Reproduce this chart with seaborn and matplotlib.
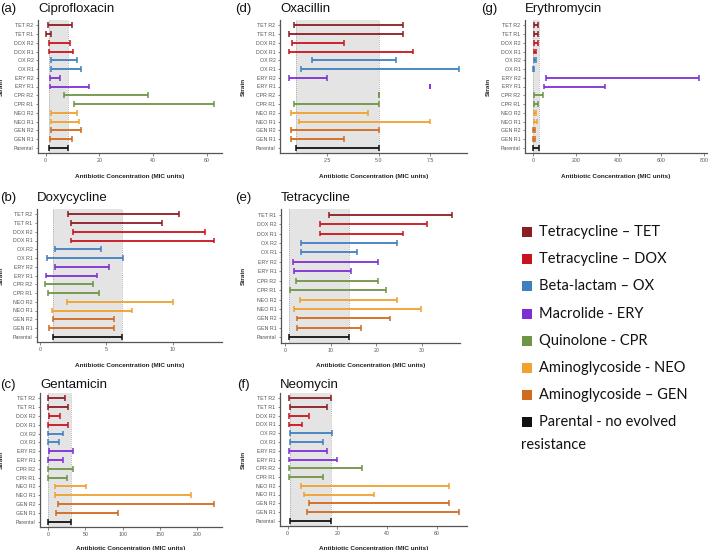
import numpy as np
import pandas as pd
import matplotlib
matplotlib.use("Agg")
import matplotlib.pyplot as plt
from matplotlib.patches import Rectangle
import seaborn as sns

# ---------------- data ----------------
strains = ["TET R2", "TET R1", "DOX R2", "DOX R1", "OX R2", "OX R1", "ERY R2", "ERY R1",
           "CPR R2", "CPR R1", "NEO R2", "NEO R1", "GEN R2", "GEN R1", "Parental"]
groups = ["TET", "TET", "DOX", "DOX", "OX", "OX", "ERY", "ERY",
          "CPR", "CPR", "NEO", "NEO", "GEN", "GEN", "Parental"]

nan = np.nan
cipro_low = [0.9, 0.25, 1.2, 1.2, 1.8, 2.1, 1.7, 1.7, 7.0, 10.5, 1.8, 2.0, 1.8, 1.6, 1.2]
cipro_high = [9.8, 1.8, 9.2, 10.2, 11.7, 13.1, 5.3, 16.2, 38.2, 62.6, 11.7, 12.4, 13.1, 9.8, 8.3]

doxy_low = [2.1, 2.3, 2.5, 2.3, 1.13, 0.5, 1.08, 0.43, 0.38, 0.6, 2.0, 0.86, 0.93, 0.68, 0.98]
doxy_high = [10.45, 9.2, 12.45, 13.1, 4.58, 6.25, 5.2, 4.28, 3.98, 4.43, 10.0, 6.95, 5.54, 5.54, 6.17]

genta_low = [0.5, 0.5, 1.8, 0.5, 0.5, 0.5, 0.9, 0.4, 0.5, 0.5, 10.0, 10.0, 14.0, 10.5, 0.5]
genta_high = [22.3, 26.7, 16.6, 26.7, 20.6, 15.3, 33.7, 19.7, 33.7, 25.0, 50.3, 191.0, 222.0, 93.2, 31.0]

oxa_low = [0.88, 0.64, 0.78, 0.64, 1.73, 1.21, 0.6, 7.5, 5.0, 0.85, 0.7, 1.1, 0.7, 0.7, 0.96]
oxa_high = [6.2, 6.2, 3.33, 6.65, 5.82, 8.89, 2.48, 7.5, 5.0, 5.0, 4.48, 7.5, 5.0, 3.33, 5.0]

tetra_low = [nan, 9.6, 7.7, 7.7, 3.4, 3.4, 1.8, 2.0, 2.3, 1.05, 3.2, 2.0, 2.6, 2.6, 0.9]
tetra_high = [nan, 36.5, 31.1, 25.9, 24.4, 15.7, 20.3, 14.4, 20.3, 22.0, 24.4, 29.7, 22.9, 16.7, 14.05]

neo_low = [0.4, 1.2, 0.4, 0.4, 1.2, 1.2, 0.8, 0.8, 0.8, 0.5, 5.6, 6.8, 8.5, 7.7, 0.9]
neo_high = [17.4, 15.8, 8.7, 5.9, 18.0, 14.1, 15.7, 19.9, 29.9, 14.4, 64.7, 34.8, 64.6, 68.6, 17.3]

ery_low = [3, 3, 3, 3, 3, 2, 62, 50, 3, 3, 3, 3, 2, 2, 1]
ery_high = [25, 25, 25, 15, 15, 6, 775, 335, 45, 25, 15, 20, 8, 8, 30]

cipro_ticks = [0, 20, 40, 60]
doxy_ticks = [0, 5, 10]
genta_ticks = [0, 50, 100, 150, 200]
oxa_ticks = [2.5, 5.0, 7.5]
tetra_ticks = [0, 10, 20, 30]
neo_ticks = [0, 20, 40, 60]
ery_ticks = [0, 200, 400, 600, 800]

palette = {"TET": "#8C1D22", "DOX": "#C8141E", "OX": "#3F7FBF", "ERY": "#7E2FD4",
           "CPR": "#6E9445", "NEO": "#F0A12E", "GEN": "#D06A1E", "Parental": "#111111"}

legend_labels = ["Tetracycline \u2013 TET", "Tetracycline \u2013 DOX", "Beta-lactam \u2013 OX",
                 "Macrolide - ERY", "Quinolone - CPR", "Aminoglycoside - NEO",
                 "Aminoglycoside \u2013 GEN", "Parental - no evolved"]
legend_keys = ["TET", "DOX", "OX", "ERY", "CPR", "NEO", "GEN", "Parental"]

# ---------------- figure ----------------
sns.set_theme(style="ticks")
plt.rcParams["font.family"] = ["Liberation Sans", "DejaVu Sans"]

W, H = 709, 550
fig = plt.figure(figsize=(W / 100, H / 100), dpi=100)


def rect(l, t, r, b):
    return [l / W, 1 - b / H, (r - l) / W, (b - t) / H]


def panel(box, low, high, ticks, letter, name, letter_x, title_y, ylab_x, xlab_y):
    l, t, r, b = box
    ax = fig.add_axes(rect(l, t, r, b))
    df = pd.DataFrame({"strain": strains, "group": groups, "low": low, "high": high}).dropna()
    df = df.reset_index(drop=True)
    n = len(df)
    df["y"] = n - 1 - np.arange(n)
    par = df[df.group == "Parental"].iloc[0]
    ax.axvspan(par.low, par.high, color="#E4E4E4", zorder=0, lw=0)
    for v in (par.low, par.high):
        ax.axvline(v, ls=(0, (1, 1.5)), color="#9A9A9A", lw=0.6, zorder=0.5)
    ax.hlines(df.y, df.low, df.high, colors=[palette[g] for g in df.group], lw=1.3, zorder=2)
    long = df.melt(id_vars=["strain", "group", "y"], value_vars=["low", "high"], value_name="mic")
    sns.scatterplot(data=long, x="mic", y="y", hue="group", palette=palette, marker="|",
                    s=18, linewidth=1.1, legend=False, ax=ax, zorder=3)
    lo, hi = df.low.min(), df.high.max()
    pad = 0.05 * (hi - lo)
    ax.set_xlim(lo - pad, hi + pad)
    ax.set_ylim(-0.6, n - 1 + 0.6)
    ax.set_yticks(df.y)
    ax.set_yticklabels(df.strain)
    ax.set_xticks(ticks)
    ax.set_xticklabels([str(x) for x in ticks])
    ax.set_facecolor("white")
    sns.despine(ax=ax)
    for s in ("left", "bottom"):
        ax.spines[s].set_color("#555555")
        ax.spines[s].set_linewidth(0.9)
    ax.tick_params(axis="both", labelsize=3.8, colors="#555555", labelcolor="#555555",
                   length=1.8, width=0.5, pad=1.5)
    ax.set_xlabel("Antibiotic Concentration (MIC units)", fontsize=4.6, fontweight="bold",
                  color="#222222")
    ax.set_ylabel("Strain", fontsize=4.6, fontweight="bold", color="#222222")
    ax.xaxis.set_label_coords(0.5, -(xlab_y - b) / (b - t))
    ax.yaxis.set_label_coords((ylab_x - l) / (r - l), 0.5)
    fig.text(letter_x / W, 1 - title_y / H, letter, fontsize=9.5, ha="center", va="center",
             color="#111111")
    fig.text(l / W, 1 - title_y / H, name, fontsize=9.5, ha="left", va="center",
             color="#111111")
    return ax


panel((38, 20, 222, 153), cipro_low, cipro_high, cipro_ticks, "(a)", "Ciprofloxacin", 8, 9, 4, 174)
panel((37, 209, 222, 342), doxy_low, doxy_high, doxy_ticks, "(b)", "Doxycycline", 8, 198, 4, 363)
panel((40, 393, 222, 527), genta_low, genta_high, genta_ticks, "(c)", "Gentamicin", 8, 385, 4, 546)
panel((280, 20, 467, 153), oxa_low, oxa_high, oxa_ticks, "(d)", "Oxacillin", 243, 9, 246, 174)
panel((281, 209, 460, 343), tetra_low, tetra_high, tetra_ticks, "(e)", "Tetracycline", 243, 198, 246, 363)
panel((280, 393, 467, 526), neo_low, neo_high, neo_ticks, "(f)", "Neomycin", 243, 385, 246, 546)
panel((525, 20, 707, 153), ery_low, ery_high, ery_ticks, "(g)", "Erythromycin", 489, 9, 491, 174)

# ---------------- legend ----------------
leg_y0, leg_dy = 232, 27.2
for i, (lab, key) in enumerate(zip(legend_labels, legend_keys)):
    yc = leg_y0 + i * leg_dy
    fig.patches.append(Rectangle((522 / W, 1 - (yc + 5) / H), 10 / W, 10 / H,
                                 transform=fig.transFigure, facecolor=palette[key],
                                 edgecolor="none"))
    fig.text(539 / W, 1 - yc / H, lab, fontsize=10.5, family=["Lato", "DejaVu Sans"],
             ha="left", va="center", color="#111111")
fig.text(521 / W, 1 - (leg_y0 + 7 * leg_dy + 22.5) / H, "resistance", fontsize=10.5,
         family=["Lato", "DejaVu Sans"], ha="left", va="center", color="#111111")

fig.savefig("out.png", dpi=100, facecolor="white")
